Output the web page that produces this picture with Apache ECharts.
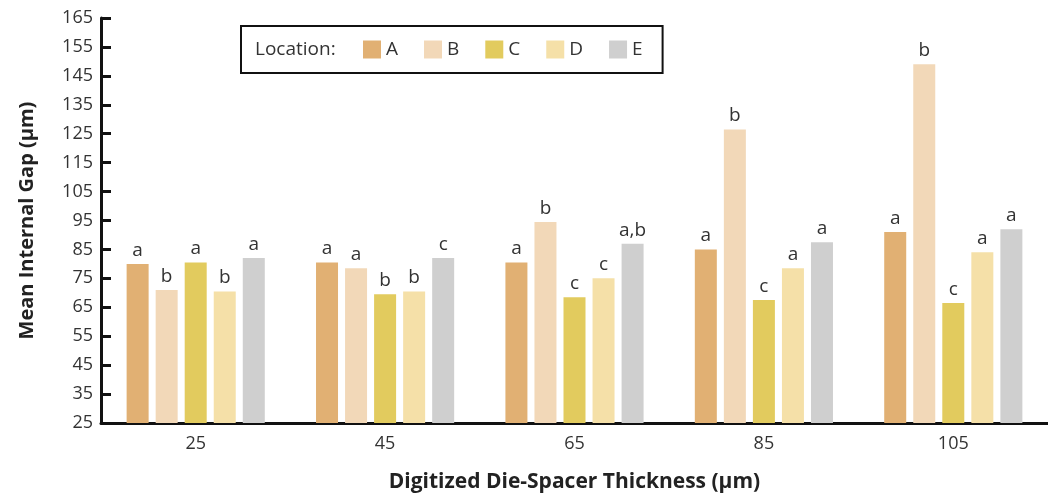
<!DOCTYPE html>
<html>
<head>
<meta charset="utf-8">
<script src="https://cdn.jsdelivr.net/npm/echarts@6/dist/echarts.min.js"></script>
<style>
  html, body { margin: 0; padding: 0; background: #fff; }
  #main { width: 1048px; height: 498px; }
</style>
</head>
<body>
<div id="main"></div>
<script>
var thickness = ['25', '45', '65', '85', '105'];
var locations = ['A', 'B', 'C', 'D', 'E'];
var colors = ['#e1b073', '#f2d8b8', '#e2cb5e', '#f5e0a8', '#cfcfcf'];

var gapA = [80, 80.5, 80.5, 85, 91];
var gapB = [71, 78.5, 94.5, 126.5, 149];
var gapC = [80.5, 69.5, 68.5, 67.5, 66.5];
var gapD = [70.5, 70.5, 75, 78.5, 84];
var gapE = [82, 82, 87, 87.5, 92];

var lettersA = ['a', 'a', 'a', 'a', 'a'];
var lettersB = ['b', 'a', 'b', 'b', 'b'];
var lettersC = ['a', 'b', 'c', 'c', 'c'];
var lettersD = ['b', 'b', 'c', 'a', 'a'];
var lettersE = ['a', 'c', 'a,b', 'a', 'a'];

var values = [gapA, gapB, gapC, gapD, gapE];
var letters = [lettersA, lettersB, lettersC, lettersD, lettersE];

var font = "'Open Sans', sans-serif";
var myChart = echarts.init(document.getElementById('main'));

var series = locations.map(function (loc, i) {
    return {
        name: loc,
        type: 'bar',
        data: values[i],
        barWidth: 22,
        barGap: '32%',
        itemStyle: { color: colors[i] },
        label: {
            show: true,
            position: 'top',
            distance: 4,
            color: '#333',
            fontFamily: font,
            fontSize: 19,
            formatter: function (p) { return letters[i][p.dataIndex]; }
        }
    };
});

option = {
    backgroundColor: '#fff',
    animation: false,
    graphic: [{
        type: 'text',
        left: 255,
        top: 40,
        style: { text: 'Location:', font: '19px ' + font, fill: '#333' }
    }],
    legend: {
        data: locations,
        left: 241,
        top: 26,
        padding: [14, 20, 14, 122],
        borderColor: '#111',
        borderWidth: 2,
        icon: 'rect',
        itemWidth: 18,
        itemHeight: 18,
        itemGap: 26,
        textStyle: { fontFamily: font, fontSize: 19, color: '#333' }
    },
    grid: { left: 101, right: -10, top: 18, bottom: 75 },
    xAxis: {
        type: 'category',
        data: thickness,
        name: 'Digitized Die-Spacer Thickness (µm)',
        nameLocation: 'middle',
        nameGap: 49,
        nameTextStyle: { fontFamily: font, fontSize: 21, fontWeight: 'bold', color: '#222' },
        axisLine: { lineStyle: { color: '#111', width: 3 } },
        axisTick: { show: false },
        axisLabel: { fontFamily: font, fontSize: 18, color: '#333', margin: 12 }
    },
    yAxis: {
        type: 'value',
        min: 25,
        max: 165,
        interval: 10,
        name: 'Mean Internal Gap (µm)',
        nameLocation: 'middle',
        nameRotate: 90,
        nameGap: 64,
        nameTextStyle: { fontFamily: font, fontSize: 20, fontWeight: 'bold', color: '#222' },
        axisLine: { show: true, lineStyle: { color: '#111', width: 3 } },
        axisTick: { show: true, inside: true, length: 10, lineStyle: { color: '#111', width: 3 } },
        axisLabel: { fontFamily: font, fontSize: 18, color: '#333', margin: 8 },
        splitLine: { show: false }
    },
    series: series
};
myChart.setOption(option);
</script>
</body>
</html>
